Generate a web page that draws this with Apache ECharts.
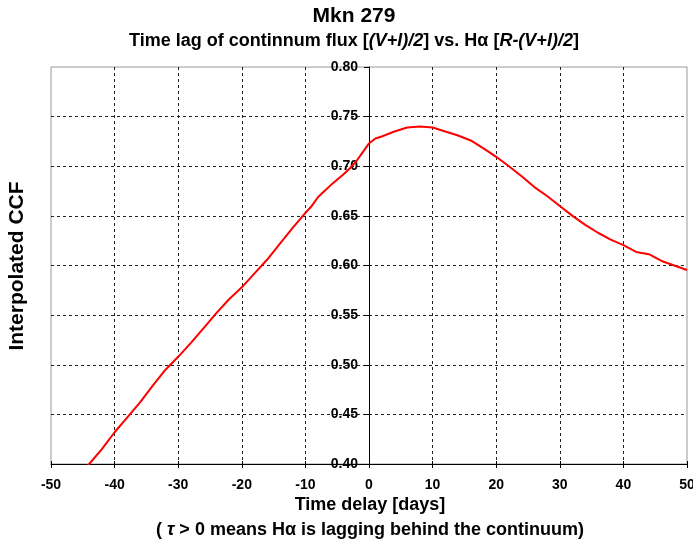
<!DOCTYPE html>
<html>
<head>
<meta charset="utf-8">
<script src="https://cdn.jsdelivr.net/npm/echarts@6/dist/echarts.min.js"></script>
<style>
html,body{margin:0;padding:0;background:#fff;}
#chart{width:693px;height:545px;}
</style>
</head>
<body>
<div id="chart"></div>
<script>
// Time lag (days)
const lags = [-45,-44,-42,-40,-38,-36,-34,-32,-30,-28,-26,-24,-22,-20,-18,-16,-14,-12,-10,-9,-8,-7,-6,-4,-3,-2,-1,0,
  1,2,4,6,8,10,12,14,16,18,20,22,24,26,28,30,32,34,36,38,40,42,44,46,48,50];
// Interpolated CCF values
const ccf = [0.393,0.400,0.415,0.432,0.447,0.462,0.479,0.495,0.508,0.522,0.537,0.552,0.566,0.578,0.592,0.606,0.622,0.638,0.653,0.660,0.669,0.675,0.681,0.692,0.698,0.705,0.714,0.723,
  0.728,0.730,0.735,0.739,0.740,0.739,0.735,0.731,0.726,0.718,0.7095,0.700,0.690,0.679,0.670,0.660,0.650,0.641,0.633,0.626,0.6205,0.6137,0.6114,0.6046,0.600,0.5955];

const titleMain = 'Mkn 279';
const xName = 'Time delay [days]';
const xNote = '( {i|τ} > 0 means Hα is lagging behind the continuum)';
const yName = 'Interpolated CCF';

const FF = "'Liberation Sans', Arial, sans-serif";
const chart = echarts.init(document.getElementById('chart'));

const points = lags.map((d, i) => [d, ccf[i]]);

function txt(x, y, text, size, extra) {
  return {
    type: 'text', x: x, y: y,
    style: Object.assign({
      text: text,
      fontFamily: FF, fontWeight: 'bold', fontSize: size,
      fill: '#000',
      align: 'center', verticalAlign: 'middle',
      textAlign: 'center', textVerticalAlign: 'middle'
    }, extra || {})
  };
}
const it = { fontFamily: FF, fontWeight: 'bold', fontStyle: 'italic', fontSize: 18, fill: '#000' };

chart.setOption({
  animation: false,
  backgroundColor: '#fff',
  grid: { left: 51, right: 6, top: 67, bottom: 81, outerBoundsMode: 'none', containLabel: false,
    show: true, borderColor: '#999', borderWidth: 1, backgroundColor: 'transparent' },
  xAxis: [{
    type: 'value', min: -50, max: 50, interval: 10,
    axisLine: { onZero: false, lineStyle: { color: '#000', width: 1 } },
    axisTick: { show: true, length: 4, lineStyle: { color: '#000' } },
    axisLabel: { fontFamily: FF, fontWeight: 'bold', fontSize: 14, color: '#000', margin: 14, hideOverlap: false },
    splitLine: { show: true, showMinLine: false, showMaxLine: false, lineStyle: { color: '#222', type: [3, 3], width: 1 } }
  }, {
    type: 'value', min: -50, max: 50, interval: 10, position: 'bottom',
    axisLine: { show: false, onZero: false },
    axisTick: { show: true, inside: true, length: 3, lineStyle: { color: '#000' } },
    axisLabel: { show: false },
    splitLine: { show: false }
  }],
  yAxis: {
    type: 'value', min: 0.4, max: 0.8, interval: 0.05, position: 'left', offset: 0,
    axisLine: { show: true, onZero: false, lineStyle: { color: '#000', width: 1 } },
    axisTick: { show: true, length: 5, lineStyle: { color: '#000' } },
    axisLabel: { fontFamily: FF, fontWeight: 'bold', fontSize: 14, color: '#000', margin: 11,
      formatter: v => v.toFixed(2) },
    splitLine: { show: true, showMinLine: false, showMaxLine: false, lineStyle: { color: '#222', type: [3, 3], width: 1 } }
  },
  series: [{
    type: 'line', data: points, xAxisIndex: 0, showSymbol: false, symbol: 'none',
    smooth: false, clip: true,
    lineStyle: { color: '#ff0000', width: 2 }
  }],
  graphic: [
    txt(354, 16, titleMain, 21),
    {
      type: 'text', x: 354, y: 41,
      style: {
        text: 'Time lag of continnum flux [{i|(V+I)/2}] vs. Hα [{i|R-(V+I)/2}]',
        fontFamily: FF, fontWeight: 'bold', fontSize: 18, fill: '#000',
        align: 'center', verticalAlign: 'middle', textAlign: 'center', textVerticalAlign: 'middle',
        rich: { i: it }
      }
    },
    txt(370, 505, xName, 18),
    {
      type: 'text', x: 370, y: 530,
      style: {
        text: xNote,
        fontFamily: FF, fontWeight: 'bold', fontSize: 18, fill: '#000',
        align: 'center', verticalAlign: 'middle', textAlign: 'center', textVerticalAlign: 'middle',
        rich: { i: it }
      }
    },
    Object.assign(txt(0, 0, yName, 21), { x: 17, y: 266, rotation: Math.PI / 2 })
  ]
});

// move the value axis onto x = 0 using the library's own scale
const rect = chart.getModel().getComponent('grid', 0).coordinateSystem.getRect();
const px0 = chart.convertToPixel({ xAxisIndex: 0 }, 0);
chart.setOption({ yAxis: { offset: -(px0 - rect.x) } });
</script>
</body>
</html>
